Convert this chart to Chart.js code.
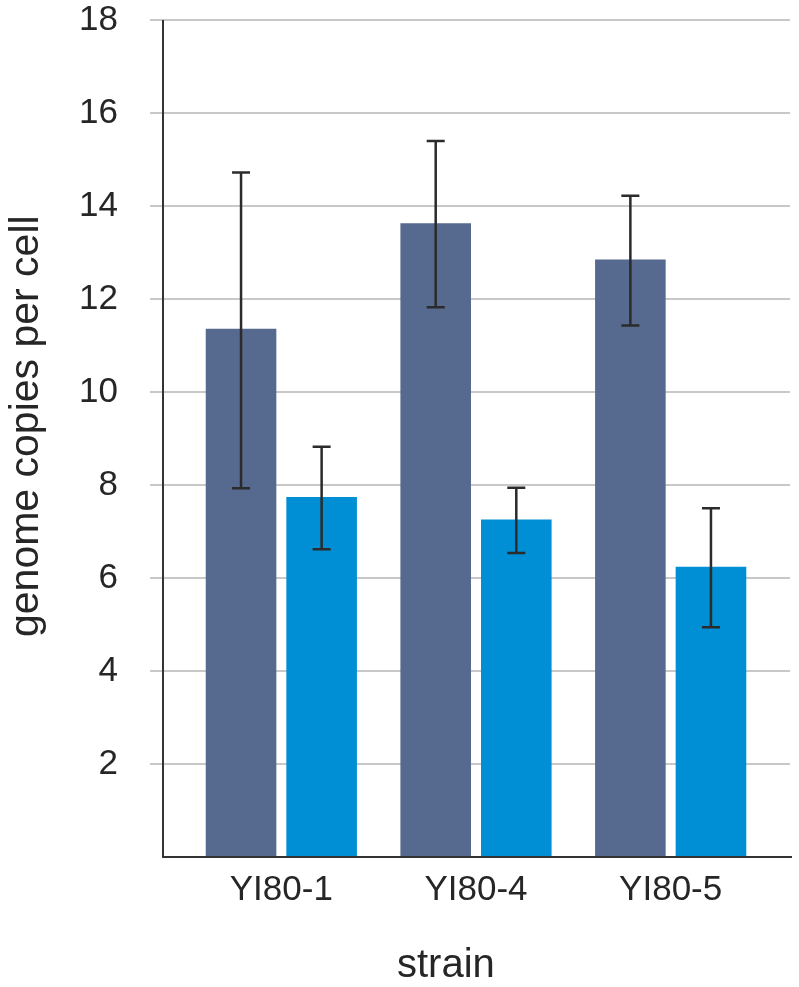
<!DOCTYPE html>
<html>
<head>
<meta charset="utf-8">
<script src="https://cdn.jsdelivr.net/npm/chart.js@4/dist/chart.umd.min.js"></script>
<style>
  html, body { margin: 0; padding: 0; background: #fff; }
  #wrap { width: 799px; height: 987px; position: relative; }
</style>
</head>
<body>
<div id="wrap"><canvas id="copiesChart"></canvas></div>
<script>
// strains on the x axis
const strains = ['YI80-1', 'YI80-4', 'YI80-5'];

// first series (dark bars) with error bar bounds
const seriesA = [11.36, 13.63, 12.85];
const seriesALow = [7.93, 11.82, 11.43];
const seriesAHigh = [14.72, 15.40, 14.22];

// second series (blue bars) with error bar bounds
const seriesB = [7.74, 7.26, 6.24];
const seriesBLow = [6.62, 6.54, 4.94];
const seriesBHigh = [8.82, 7.94, 7.50];

// y axis range / ticks
const yMin = 0;
const yMax = 18;
const yStep = 2;

const FONT = "'Liberation Sans', Arial, Helvetica, sans-serif";
const TEXT = '#262626';

// grid + axis lines, drawn wider than the category area like the original
const frameLines = {
    id: 'frameLines',
    beforeDatasetsDraw(chart) {
        const { ctx } = chart;
        const y = chart.scales.y;
        ctx.save();
        ctx.strokeStyle = '#c8c8c8';
        ctx.lineWidth = 2;
        y.ticks.forEach(t => {
            if (t.value === yMin) return;
            const py = Math.round(y.getPixelForValue(t.value));
            ctx.beginPath();
            ctx.moveTo(150, py);
            ctx.lineTo(790, py);
            ctx.stroke();
        });
        ctx.restore();
    },
    afterDatasetsDraw(chart) {
        const { ctx } = chart;
        const y = chart.scales.y;
        const top = y.getPixelForValue(yMax);
        const bottom = y.getPixelForValue(yMin);
        ctx.save();
        ctx.strokeStyle = '#333';
        ctx.lineWidth = 2;
        ctx.beginPath();
        ctx.moveTo(163, top);
        ctx.lineTo(163, bottom);
        ctx.lineTo(792, bottom);
        ctx.stroke();
        ctx.restore();
    }
};

// error bars from the low/high arrays
const errorBars = {
    id: 'errorBars',
    afterDatasetsDraw(chart) {
        const { ctx } = chart;
        const y = chart.scales.y;
        const bounds = [[seriesALow, seriesAHigh], [seriesBLow, seriesBHigh]];
        ctx.save();
        ctx.strokeStyle = '#2b2b2b';
        ctx.lineWidth = 2.5;
        chart.data.datasets.forEach((ds, i) => {
            const meta = chart.getDatasetMeta(i);
            meta.data.forEach((bar, j) => {
                const x = bar.x;
                const lo = y.getPixelForValue(bounds[i][0][j]);
                const hi = y.getPixelForValue(bounds[i][1][j]);
                ctx.beginPath();
                ctx.moveTo(x, lo);
                ctx.lineTo(x, hi);
                ctx.moveTo(x - 9, lo);
                ctx.lineTo(x + 9, lo);
                ctx.moveTo(x - 9, hi);
                ctx.lineTo(x + 9, hi);
                ctx.stroke();
            });
        });
        ctx.restore();
    }
};

// axis titles, placed where the original has them
const axisTitles = {
    id: 'axisTitles',
    afterDraw(chart) {
        const { ctx } = chart;
        ctx.save();
        ctx.fillStyle = TEXT;
        ctx.textAlign = 'left';
        ctx.textBaseline = 'alphabetic';
        ctx.font = '40px ' + FONT;
        ctx.fillText('strain', 397, 977);
        ctx.font = '41px ' + FONT;
        ctx.translate(38, 637);
        ctx.rotate(-Math.PI / 2);
        ctx.fillText('genome copies per cell', 0, 0);
        ctx.restore();
    }
};

const ctx = document.getElementById('copiesChart').getContext('2d');
new Chart(ctx, {
    type: 'bar',
    data: {
        labels: strains,
        datasets: [
            {
                label: 'series 1',
                data: seriesA,
                backgroundColor: '#56698f',
                categoryPercentage: 0.828,
                barPercentage: 0.876
            },
            {
                label: 'series 2',
                data: seriesB,
                backgroundColor: '#008ed4',
                categoryPercentage: 0.828,
                barPercentage: 0.876
            }
        ]
    },
    options: {
        responsive: true,
        maintainAspectRatio: false,
        animation: false,
        layout: {
            padding: { left: 0, right: 31, top: 20, bottom: 0 }
        },
        plugins: {
            legend: { display: false },
            tooltip: { enabled: false }
        },
        scales: {
            x: {
                grid: { display: false, drawTicks: false },
                border: { display: false },
                ticks: {
                    color: TEXT,
                    font: { family: FONT, size: 35 },
                    padding: 12
                },
                afterFit(scale) {
                    scale.height = 130;
                    scale.paddingLeft = 0;
                    scale.paddingRight = 0;
                }
            },
            y: {
                min: yMin,
                max: yMax,
                grid: { display: false, drawTicks: false },
                border: { display: false },
                ticks: {
                    stepSize: yStep,
                    color: TEXT,
                    padding: 66,
                    font: { family: FONT, size: 35 },
                    callback: v => (v === yMin ? '' : v)
                },
                afterFit(scale) {
                    scale.width = 184;
                    scale.paddingTop = 0;
                    scale.paddingBottom = 0;
                }
            }
        }
    },
    plugins: [frameLines, errorBars, axisTitles]
});
</script>
</body>
</html>
